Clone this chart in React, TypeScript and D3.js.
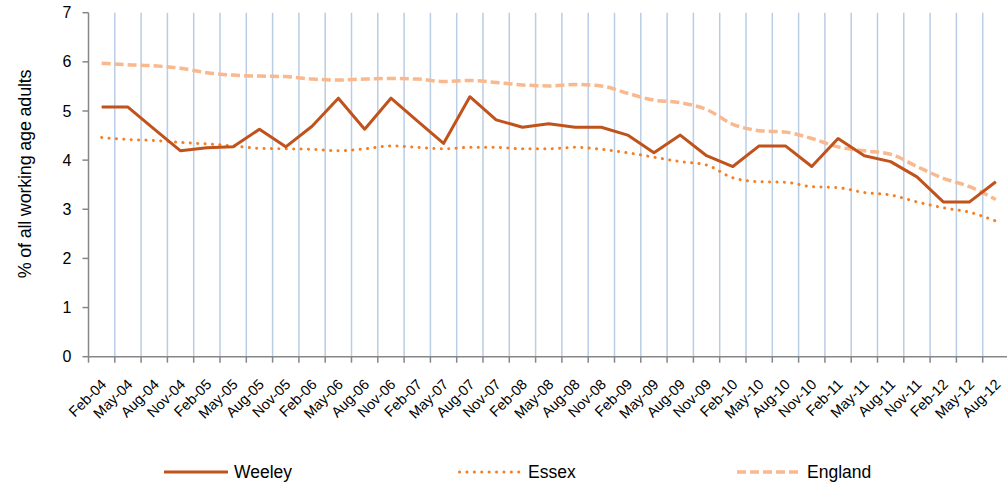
import React, { useEffect, useRef } from "react";
import * as d3 from "d3";

const categories = [
  "Feb-04", "May-04", "Aug-04", "Nov-04", "Feb-05", "May-05", "Aug-05", "Nov-05",
  "Feb-06", "May-06", "Aug-06", "Nov-06", "Feb-07", "May-07", "Aug-07", "Nov-07",
  "Feb-08", "May-08", "Aug-08", "Nov-08", "Feb-09", "May-09", "Aug-09", "Nov-09",
  "Feb-10", "May-10", "Aug-10", "Nov-10", "Feb-11", "May-11", "Aug-11", "Nov-11",
  "Feb-12", "May-12", "Aug-12",
];

const weeley = [
  5.08, 5.08, 4.63, 4.19, 4.25, 4.27, 4.63, 4.27, 4.69, 5.26, 4.63, 5.26,
  4.8, 4.34, 5.29, 4.82, 4.67, 4.74, 4.67, 4.67, 4.51, 4.15, 4.51, 4.09,
  3.87, 4.29, 4.29, 3.87, 4.44, 4.09, 3.97, 3.66, 3.15, 3.15, 3.56,
];

const essex = [
  4.46, 4.42, 4.4, 4.36, 4.33, 4.29, 4.24, 4.23, 4.22, 4.19, 4.23, 4.29,
  4.26, 4.23, 4.26, 4.26, 4.23, 4.23, 4.26, 4.22, 4.15, 4.06, 3.97, 3.9,
  3.64, 3.56, 3.55, 3.46, 3.44, 3.34, 3.29, 3.15, 3.03, 2.94, 2.76,
];

const england = [
  5.97, 5.94, 5.92, 5.87, 5.78, 5.73, 5.71, 5.7, 5.65, 5.63, 5.65, 5.66,
  5.65, 5.6, 5.62, 5.58, 5.53, 5.51, 5.54, 5.51, 5.36, 5.22, 5.17, 5.03,
  4.73, 4.6, 4.57, 4.44, 4.27, 4.19, 4.12, 3.87, 3.63, 3.46, 3.2,
];

const yTicks = [0, 1, 2, 3, 4, 5, 6, 7];

const series = [
  { name: "Weeley", values: weeley, color: "#C0531B", width: 3, dash: "", cap: "butt", smooth: false },
  { name: "Essex", values: essex, color: "#F57F22", width: 3, dash: "0.1 7.3", cap: "round", smooth: true },
  { name: "England", values: england, color: "#F9B88D", width: 3.5, dash: "9 4", cap: "butt", smooth: true },
];

const W = 1007;
const H = 488;
const left = 88.5;
const bandW = 26.3;
const top = 12.7;
const bottom = 356.7;

export default function App() {
  const ref = useRef<SVGSVGElement>(null);

  useEffect(() => {
    const svg = d3.select(ref.current);
    svg.selectAll("*").remove();
    const font = "Liberation Sans, Arial, sans-serif";

    const x = d3
      .scaleBand()
      .domain(categories)
      .range([left, left + bandW * categories.length]);
    const y = d3.scaleLinear().domain([0, 7]).range([bottom, top]);

    // vertical gridlines at category boundaries
    svg
      .append("g")
      .selectAll("line")
      .data(categories.slice(1))
      .join("line")
      .attr("x1", (d) => x(d)!)
      .attr("x2", (d) => x(d)!)
      .attr("y1", top)
      .attr("y2", bottom)
      .attr("stroke", "#B9CDE5")
      .attr("stroke-width", 1.5);

    // y axis
    const gy = svg.append("g");
    gy.append("line")
      .attr("x1", left)
      .attr("x2", left)
      .attr("y1", top)
      .attr("y2", bottom)
      .attr("stroke", "#868686")
      .attr("stroke-width", 1.5);
    gy.selectAll("line.tick")
      .data(yTicks)
      .join("line")
      .attr("class", "tick")
      .attr("x1", left - 6)
      .attr("x2", left)
      .attr("y1", (d) => y(d))
      .attr("y2", (d) => y(d))
      .attr("stroke", "#868686")
      .attr("stroke-width", 1.5);
    gy.selectAll("text")
      .data(yTicks)
      .join("text")
      .attr("x", left - 17)
      .attr("y", (d) => y(d))
      .attr("dy", "0.35em")
      .attr("text-anchor", "end")
      .attr("font-family", font)
      .attr("font-size", 16)
      .attr("fill", "#000")
      .text((d) => d);

    svg
      .append("text")
      .attr("transform", `translate(31,174) rotate(-90)`)
      .attr("text-anchor", "middle")
      .attr("font-family", font)
      .attr("font-size", 18)
      .attr("letter-spacing", -0.2)
      .text("% of all working age adults");

    // x axis
    const gx = svg.append("g");
    gx.append("line")
      .attr("x1", left)
      .attr("x2", W)
      .attr("y1", bottom)
      .attr("y2", bottom)
      .attr("stroke", "#868686")
      .attr("stroke-width", 1.5);
    gx.selectAll("line.tick")
      .data(categories)
      .join("line")
      .attr("class", "tick")
      .attr("x1", (d) => x(d)!)
      .attr("x2", (d) => x(d)!)
      .attr("y1", bottom)
      .attr("y2", bottom + 6)
      .attr("stroke", "#868686")
      .attr("stroke-width", 1.5);
    gx.selectAll("text")
      .data(categories)
      .join("text")
      .attr(
        "transform",
        (d) => `translate(${x(d)! + bandW / 2 + 2},${bottom + 25}) rotate(-45)`
      )
      .attr("text-anchor", "end")
      .attr("dy", "0.35em")
      .attr("font-family", font)
      .attr("font-size", 14.5)
      .text((d) => d);

    // lines
    series
      .slice()
      .reverse()
      .forEach((s) => {
        const line = d3
          .line<number>()
          .x((_, i) => x(categories[i])! + bandW / 2)
          .y((d) => y(d))
          .curve(s.smooth ? d3.curveMonotoneX : d3.curveLinear);
        svg
          .append("path")
          .datum(s.values)
          .attr("d", line)
          .attr("fill", "none")
          .attr("stroke", s.color)
          .attr("stroke-width", s.width)
          .attr("stroke-dasharray", s.dash || null)
          .attr("stroke-linecap", s.cap)
          .attr("stroke-linejoin", "round");
      });

    // legend
    const legendX = [164, 458, 737];
    const lg = svg.append("g");
    series.forEach((s, i) => {
      const lx = legendX[i];
      lg.append("line")
        .attr("x1", lx + (s.cap === "round" ? 1.5 : 0))
        .attr("x2", lx + 64)
        .attr("y1", 472)
        .attr("y2", 472)
        .attr("stroke", s.color)
        .attr("stroke-width", s.width)
        .attr("stroke-dasharray", s.dash || null)
        .attr("stroke-linecap", s.cap);
      lg.append("text")
        .attr("x", lx + 70)
        .attr("y", 472)
        .attr("dy", "0.35em")
        .attr("font-family", font)
        .attr("font-size", 17.5)
        .text(s.name);
    });
  }, []);

  return (
    <svg
      ref={ref}
      width={W}
      height={H}
      style={{ position: "absolute", left: 0, top: 0, background: "#fff" }}
    />
  );
}
